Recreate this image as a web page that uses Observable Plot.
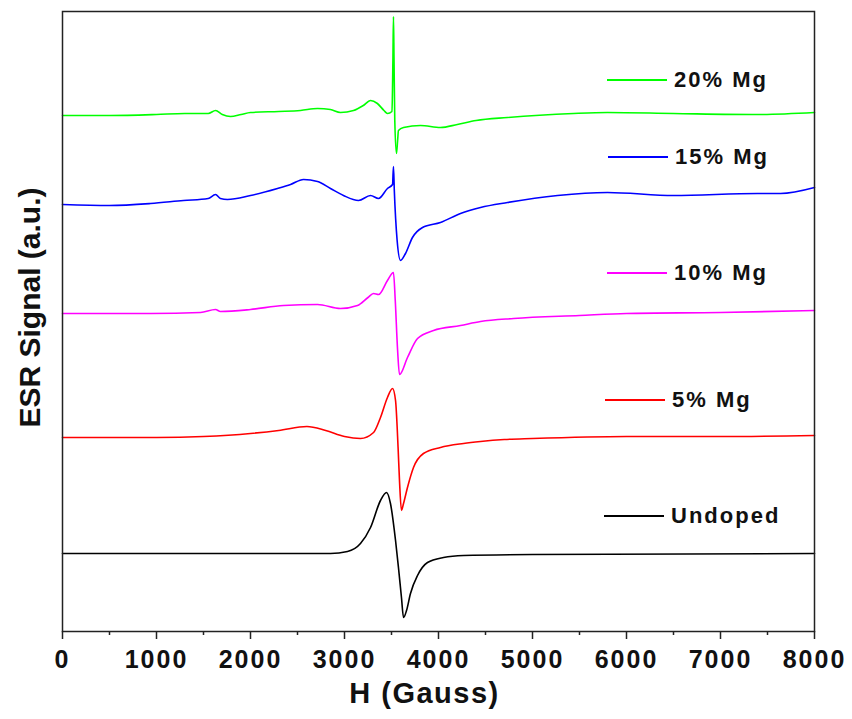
<!DOCTYPE html>
<html>
<head>
<meta charset="utf-8">
<script src="https://cdn.jsdelivr.net/npm/d3@7"></script>
<script src="https://cdn.jsdelivr.net/npm/@observablehq/plot@0.6"></script>
<style>
  html, body { margin: 0; padding: 0; background: #fff; }
  #wrap { position: relative; width: 852px; height: 719px; font-family: "Liberation Sans", Arial, sans-serif; }
  #wrap svg { position: absolute; left: 0; top: 0; }
  g[aria-label="x-axis tick label"] text { letter-spacing: 2px; }
  .xlab text { letter-spacing: 1.5px; }
  .legend { position: absolute; left: 0; top: 0; width: 852px; height: 719px; pointer-events: none; }
  .legend .row { position: absolute; display: flex; align-items: center; height: 24px; }
  .legend .sw { width: 60px; height: 0; border-top: 2px solid; margin-right: 7px; }
  .legend .lb { font-weight: bold; font-size: 22px; letter-spacing: 2px; color: #111; line-height: 24px; }
</style>
</head>
<body>
<div id="wrap"></div>
<script>
// Series labels and colours
const seriesNames = ["20% Mg", "15% Mg", "10% Mg", "5% Mg", "Undoped"];
const seriesColors = ["#00ff00", "#0000ff", "#ff00ff", "#ff0000", "#000000"];

// [H (Gauss), ESR signal (a.u., vertically offset)]
const mg20 = [[0,516],[500,516],[1000,517],[1300,518],[1550,518],[1628,521],[1700,517],[1787,515],[1900,517],[2000,519],[2300,520],[2532,521],[2713,523],[2850,522],[2957,519],[3096,521],[3200,526],[3277,531],[3350,528],[3420,521],[3457,518],[3505,520],[3515,571],[3521,615],[3527,571],[3535,511],[3553,478],[3565,491],[3574,501],[3628,504],[3809,506],[4021,504],[4200,507],[4400,511],[4734,514],[5436,518],[5798,519],[6500,518],[7394,517],[8000,519]];
const mg15 = [[0,427],[500,426],[936,428],[1287,431],[1550,433],[1628,437],[1680,433],[1755,432],[2000,436],[2287,443],[2426,447],[2564,452],[2713,450],[2851,443],[2989,436],[3149,431],[3277,436],[3362,433],[3457,443],[3511,447],[3521,465],[3530,441],[3560,391],[3596,371],[3649,378],[3723,394],[3830,404],[4021,409],[4234,418],[4447,424],[4734,429],[5266,436],[5798,439],[6500,436],[7394,438],[7638,438],[8000,444]];
const mg10 = [[0,318],[936,318],[1468,319],[1628,322],[1680,320],[2000,322],[2351,326],[2713,327],[2957,323],[3138,326],[3250,334],[3309,338],[3362,337],[3457,351],[3521,359],[3540,331],[3565,281],[3585,257],[3670,274],[3777,293],[3947,301],[4234,306],[4447,310],[4800,313],[5500,316],[6000,318],[7000,319],[8000,321]];
const mg5 = [[0,194],[1000,194],[1500,195],[2000,198],[2300,201],[2600,205],[2800,201],[3000,195],[3170,193],[3309,199],[3383,214],[3457,234],[3511,243],[3543,231],[3570,184],[3585,151],[3606,121],[3628,128],[3670,144],[3734,164],[3840,178],[4021,184],[4266,188],[4447,190],[4700,192],[5000,193],[6000,195],[7000,195],[8000,196]];
const undoped = [[0,78],[1000,78],[2000,78],[2851,78],[3032,80],[3170,88],[3277,104],[3383,131],[3447,139],[3489,128],[3543,91],[3574,64],[3606,34],[3628,14],[3660,21],[3702,38],[3777,56],[3883,69],[4053,74],[4266,76],[5000,77],[8000,78]];

const majorTicks = [0,1000,2000,3000,4000,5000,6000,7000,8000];
const minorTicks = [500,1500,2500,3500,4500,5500,6500,7500];

const allSeries = [mg20, mg15, mg10, mg5, undoped];
const rows = allSeries.flatMap((s, i) => s.map(([h, v]) => ({h, v, name: seriesNames[i]})));

const chart = Plot.plot({
  width: 852,
  height: 719,
  marginLeft: 62,
  marginRight: 38,
  marginTop: 11,
  marginBottom: 88,
  style: {fontFamily: '"Liberation Sans", Arial, sans-serif', fontWeight: "bold", background: "#fff", color: "#111"},
  x: {domain: [0, 8000]},
  y: {domain: [0, 620], axis: null},
  color: {domain: seriesNames, range: seriesColors},
  marks: [
    ...seriesNames.map((n, i) => Plot.line(rows.filter(d => d.name === n), {x: "h", y: "v", stroke: seriesColors[i], strokeWidth: 1.6, curve: "monotone-x"})),
    Plot.frame({stroke: "#222", strokeWidth: 1.5}),
    Plot.axisX(minorTicks, {tickSize: 4, text: null, label: null, stroke: "#222", strokeWidth: 1.5}),
    Plot.axisX(majorTicks, {tickSize: 8, tickPadding: 11, fontSize: 25, fontWeight: "bold", label: null, stroke: "#222", strokeWidth: 1.5, tickFormat: d => String(d)}),
    Plot.text(["H (Gauss)"], {frameAnchor: "bottom", textAnchor: "middle", lineAnchor: "middle", dy: 62, dx: -14, fontSize: 29, fontWeight: "bold", fill: "#111", className: "xlab"}),
    Plot.text(["ESR Signal (a.u.)"], {frameAnchor: "left", textAnchor: "middle", lineAnchor: "middle", dx: -32, dy: -14, rotate: -90, fontSize: 30, fontWeight: "bold", fill: "#111"})
  ]
});
const wrap = document.getElementById("wrap");
wrap.appendChild(chart);

// Legend (HTML overlay inside plot area)
const legendTops = [80, 157, 273, 400, 516];
const legendLefts = [607, 608, 607, 605, 604];
const leg = document.createElement("div");
leg.className = "legend";
seriesNames.forEach((n, i) => {
  const row = document.createElement("div");
  row.className = "row";
  row.style.left = legendLefts[i] + "px";
  row.style.top = (legendTops[i] - 12) + "px";
  const sw = document.createElement("div");
  sw.className = "sw";
  sw.style.borderTopColor = seriesColors[i];
  const lb = document.createElement("div");
  lb.className = "lb";
  lb.textContent = n;
  row.appendChild(sw);
  row.appendChild(lb);
  leg.appendChild(row);
});
wrap.appendChild(leg);
</script>
</body>
</html>
